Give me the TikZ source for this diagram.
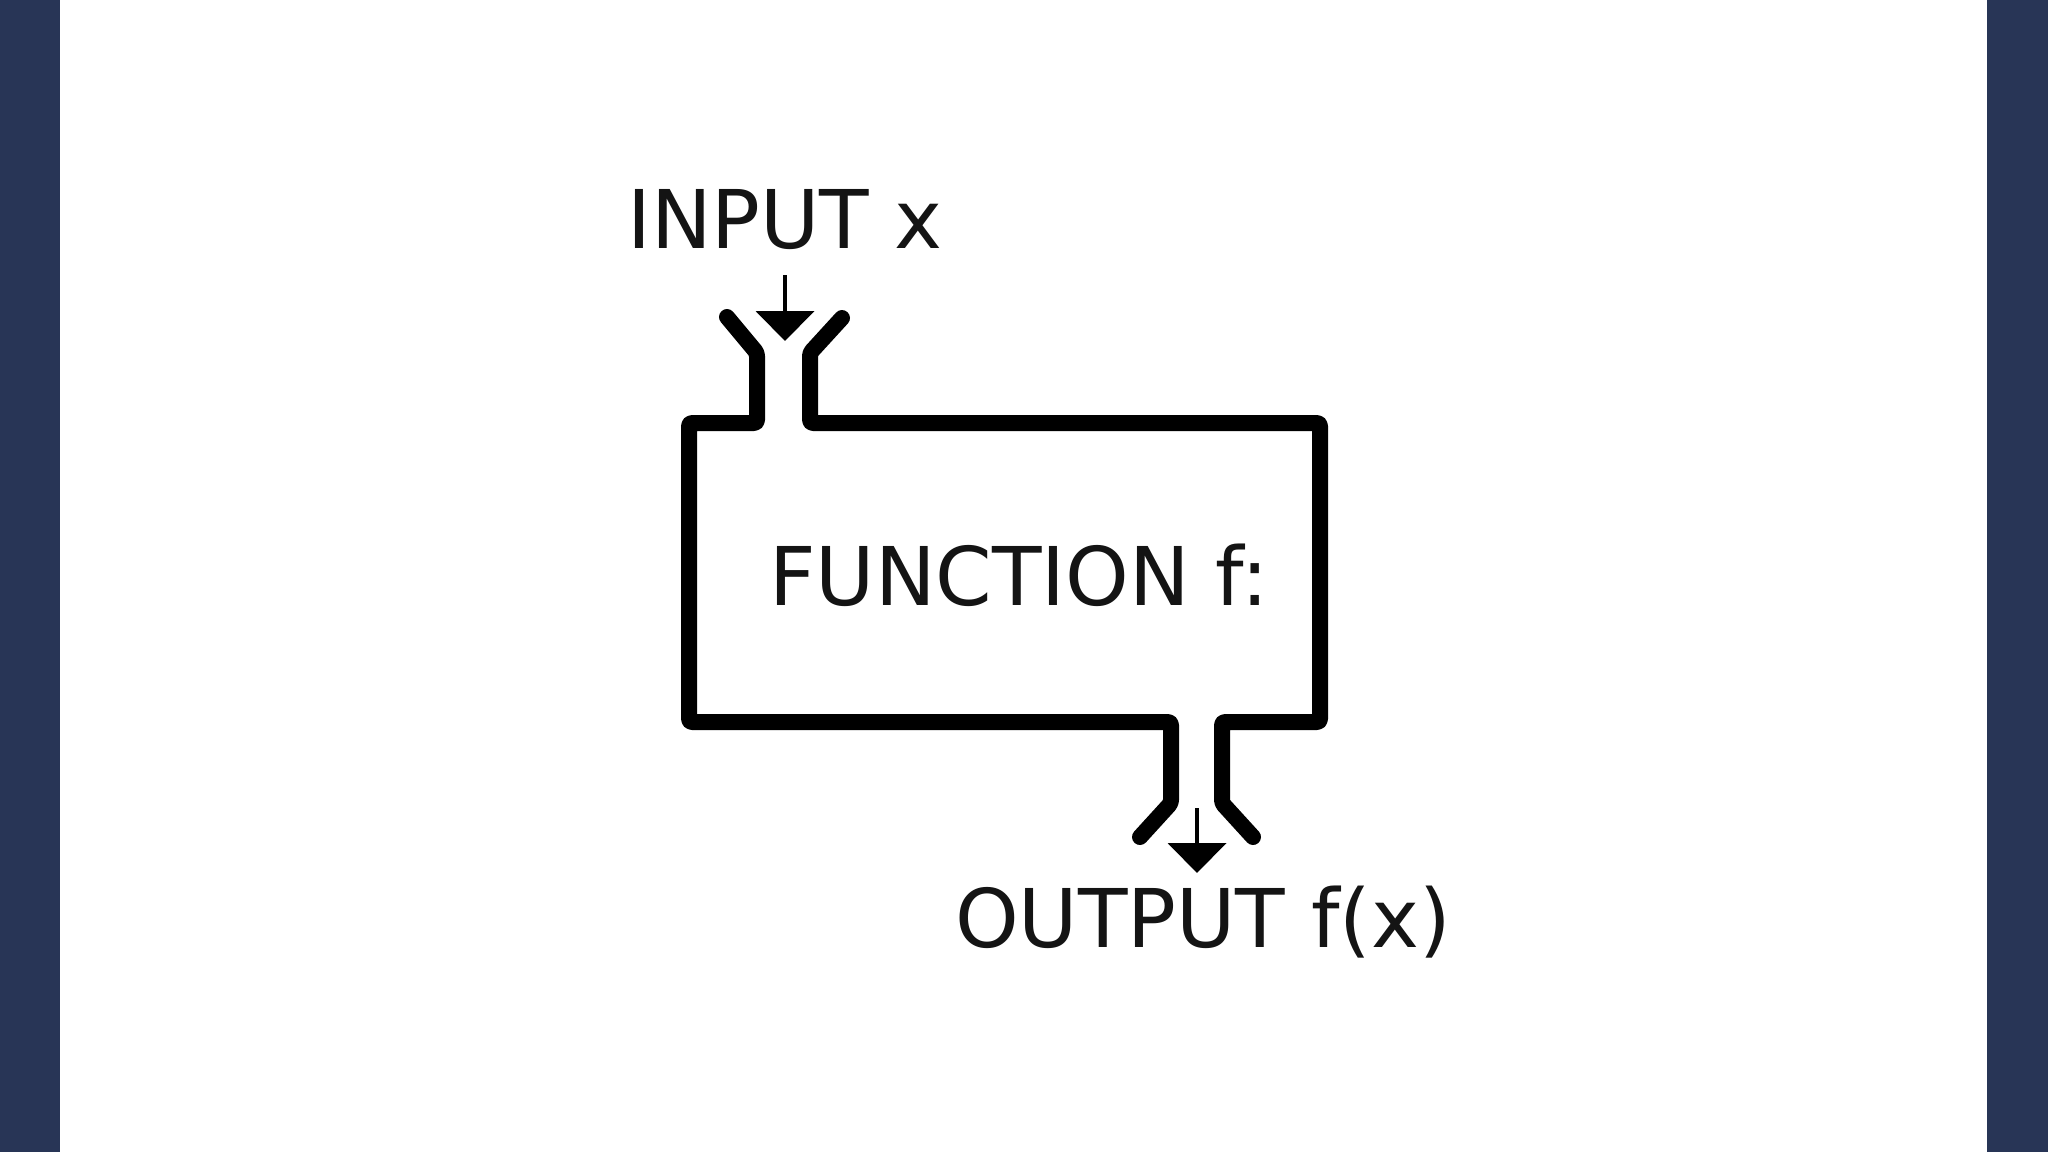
\documentclass[tikz,border=0pt]{standalone}
\usepackage{fontspec}
\setmainfont{DejaVu Sans}
\usetikzlibrary{arrows.meta}
\definecolor{barblue}{HTML}{283556}
\tikzset{
  outline/.style={line width=16pt, line join=round, line cap=round, rounded corners=3pt},
  flowarrow/.style={line width=4.5pt, -{Triangle[width=58pt,length=30pt]}},
  label/.style={font=\fontsize{81}{97}\selectfont, anchor=base west, inner sep=0pt, text=black!92}
}
\begin{document}
\begin{tikzpicture}[x=1pt,y=-1pt]
\useasboundingbox (0,0) rectangle (2048,1152);
\fill[white] (0,0) rectangle (2048,1152);
\fill[barblue] (0,0) rectangle (60,1152);
\fill[barblue] (1987,0) rectangle (2048,1152);
% labels
\node[label] (in) at (627,248) {INPUT x};
\node[label] (fn) at (769,605) {FUNCTION f:};
\node[label] (out) at (955,947) {OUTPUT f(x)};
% machine outline
\draw[outline] (842,318) -- (810,353) -- (810,423) -- (1320,423) -- (1320,722) -- (1222,722) -- (1222,803) -- (1253,837);
\draw[outline] (727,317) -- (757,353) -- (757,423) -- (689,423) -- (689,722) -- (1171,722) -- (1171,803) -- (1140,837);
% arrows
\coordinate (inA) at (785,275);
\coordinate (inB) at (785,341);
\coordinate (outA) at (1197,808);
\coordinate (outB) at (1197,873);
\draw[flowarrow] (inA) -- (inB);
\draw[flowarrow] (outA) -- (outB);
\end{tikzpicture}
\end{document}
